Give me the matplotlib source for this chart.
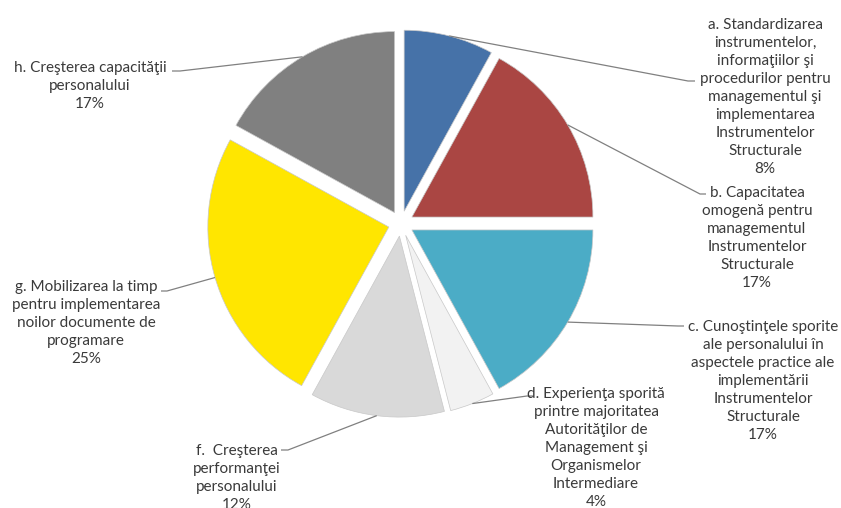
import numpy as np
import matplotlib
matplotlib.use("Agg")
import matplotlib.pyplot as plt

# slice data (clockwise from 12 o'clock)
names = [
    "a. Standardizarea\ninstrumentelor,\ninformaţiilor şi\nprocedurilor pentru\nmanagementul şi\nimplementarea\nInstrumentelor\nStructurale",
    "b. Capacitatea\nomogenă pentru\nmanagementul\nInstrumentelor\nStructurale",
    "c. Cunoştinţele sporite\nale personalului în\naspectele practice ale\nimplementării\nInstrumentelor\nStructurale",
    "d. Experienţa sporită\nprintre majoritatea\nAutorităţilor de\nManagement şi\nOrganismelor\nIntermediare",
    "f.  Creşterea\nperformanţei\npersonalului",
    "g. Mobilizarea la timp\npentru implementarea\nnoilor documente de\nprogramare",
    "h. Creşterea capacităţii\npersonalului",
]
values = [8, 17, 17, 4, 12, 25, 17]
colors = ["#4672A8", "#AA4643", "#4BACC6", "#F2F2F2", "#D9D9D9", "#FFE600", "#808080"]

W, H = 841, 508
R_PX = 181.0           # pie radius in pixels
CX, CY = 401.0, 223.5  # pie centre in pixels

def to_data(x, y):
    return (x - CX) / R_PX, (CY - y) / R_PX

# label centre, leader elbow and leader end (pixels)
label_pos = [(765, 97), (757, 238), (763, 381), (596, 448), (237, 478), (86, 323), (90, 86)]
elbows = [(688, 81), (700, 194), (678, 326), (527, 396), (288, 450), (167, 291), (180, 71)]
ends = [(695, 81), (706, 194), (684, 326), (533, 396), (281, 450), (161, 291), (172, 71)]

fig = plt.figure(figsize=(W / 100, H / 100), dpi=100)
ax = fig.add_axes([0, 0, 1, 1])

wedges, _ = ax.pie(values, colors=colors, startangle=90, counterclock=False,
                   explode=[0.07] * len(values), radius=1.0,
                   wedgeprops=dict(edgecolor="#C8C8C8", linewidth=0.5))

x0, y0 = to_data(0, 0)
x1, y1 = to_data(W, H)
ax.set_xlim(x0, x1)
ax.set_ylim(y1, y0)
ax.set_aspect("auto")
ax.axis("off")

txt_color = "#3A3A3A"
line_color = "#808080"
for w, name, v, lp, el, en in zip(wedges, names, values, label_pos, elbows, ends):
    mid = np.deg2rad((w.theta1 + w.theta2) / 2)
    sx = w.center[0] + w.r * np.cos(mid)
    sy = w.center[1] + w.r * np.sin(mid)
    ex, ey = to_data(*el)
    fx, fy = to_data(*en)
    ax.plot([sx, ex, fx], [sy, ey, fy], color=line_color, lw=0.9,
            solid_capstyle="butt", zorder=3)
    tx, ty = to_data(*lp)
    ax.text(tx, ty, f"{name}\n{v}%", ha="center", va="center",
            fontsize=11, family=["Lato", "DejaVu Sans"], color=txt_color,
            linespacing=1.37, multialignment="center")

fig.savefig("out.png", dpi=100)
